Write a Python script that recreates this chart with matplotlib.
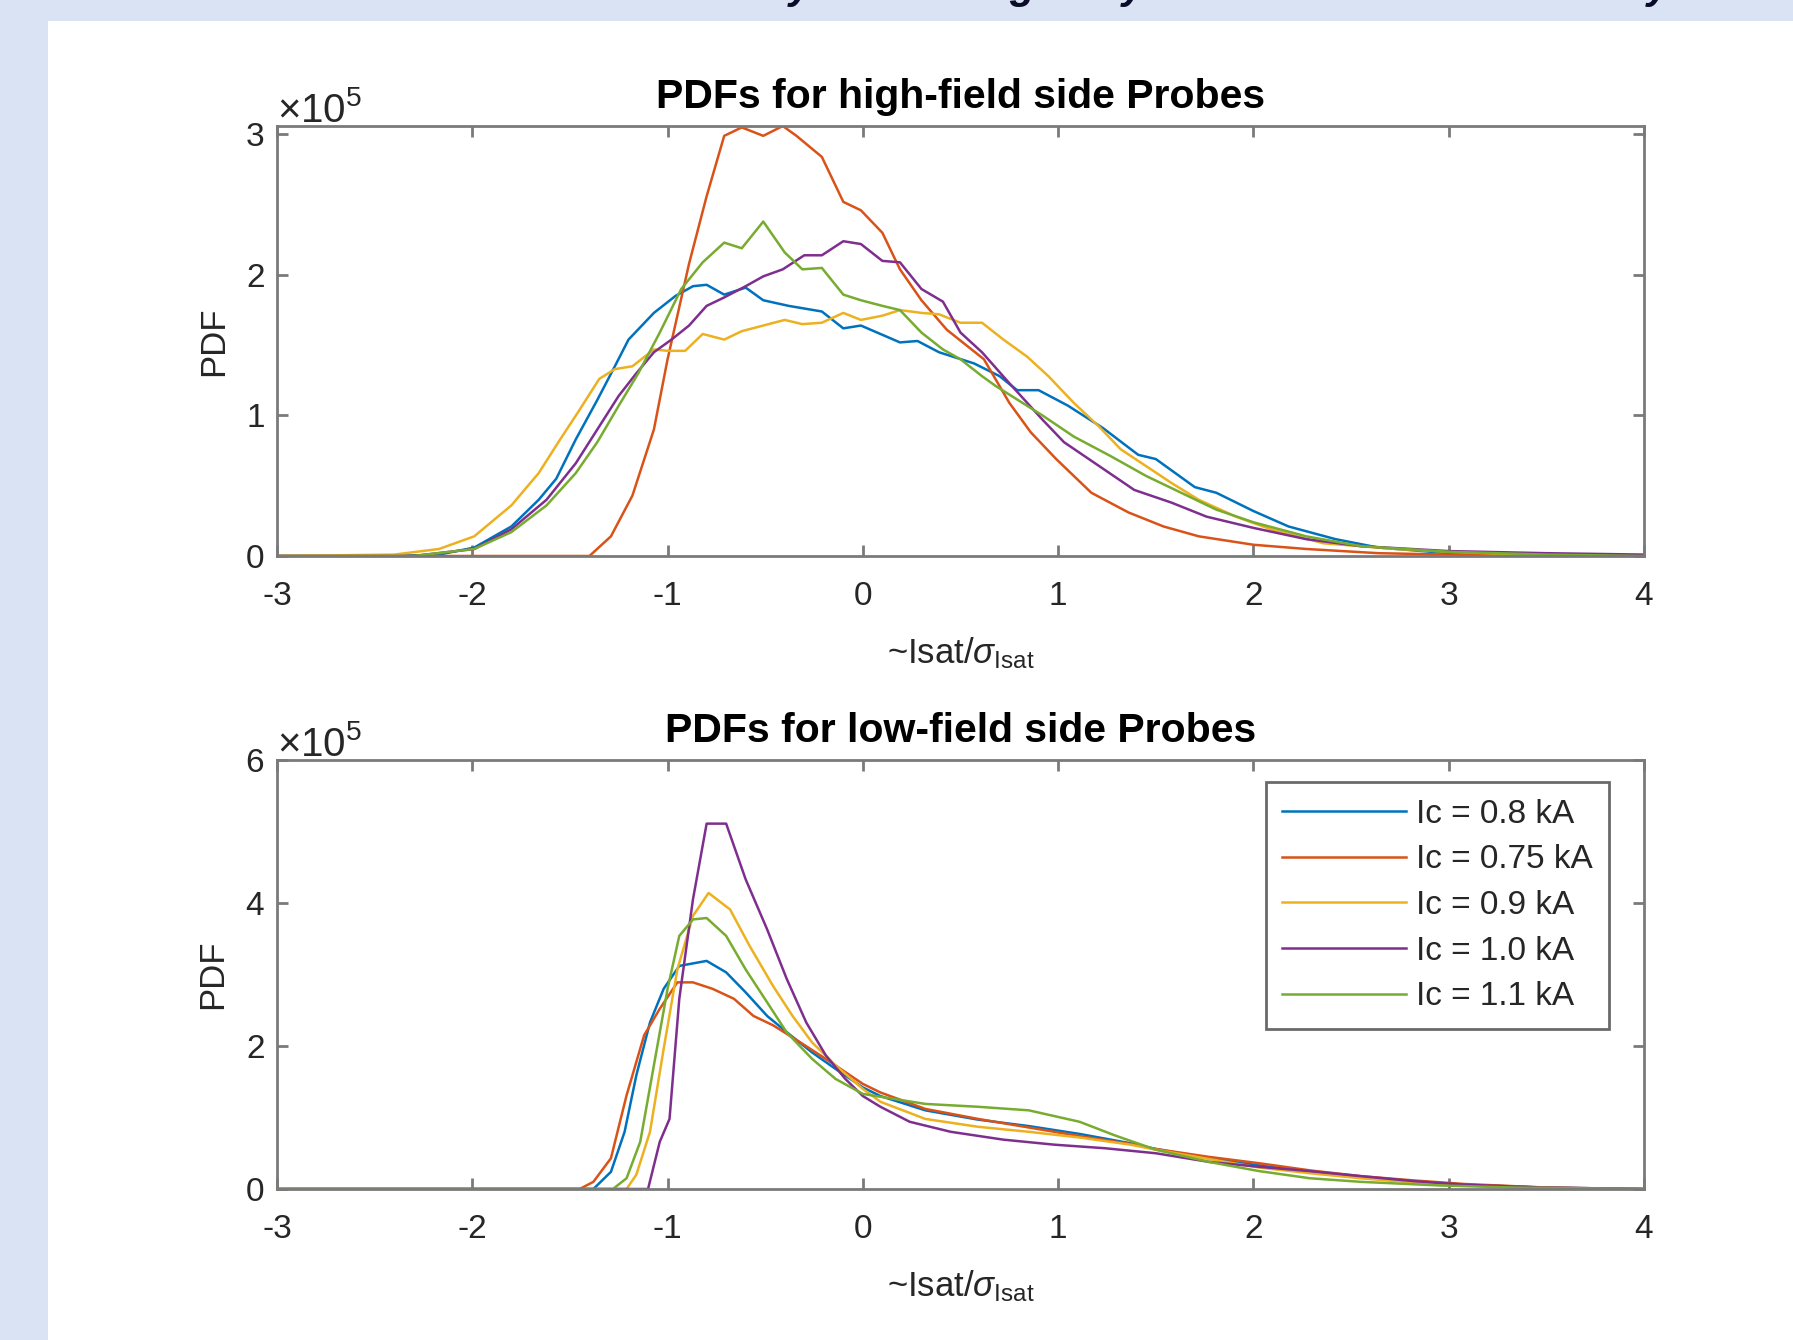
import numpy as np
import matplotlib
matplotlib.use('Agg')
import matplotlib.pyplot as plt
from matplotlib.patches import Rectangle
from matplotlib.ticker import ScalarFormatter, FixedLocator

# ---------------- data (PDF values in units of 1e5) ----------------
labels = ['Ic = 0.8 kA', 'Ic = 0.75 kA', 'Ic = 0.9 kA', 'Ic = 1.0 kA', 'Ic = 1.1 kA']
colors = ['#0072BD', '#D95319', '#EDB120', '#7E2F8E', '#77AC30']

# high-field side
hf_blue_x = [-3, -2.4, -2.17, -1.99, -1.80, -1.66, -1.57, -1.47, -1.36, -1.27, -1.20, -1.07, -0.96, -0.87, -0.80,
             -0.71, -0.60, -0.51, -0.38, -0.21, -0.10, -0.01, 0.19, 0.28, 0.39, 0.57, 0.70, 0.79, 0.90, 1.05, 1.23,
             1.41, 1.50, 1.70, 1.81, 2.0, 2.18, 2.42, 2.64, 3.0, 3.4, 4.0]
hf_blue_y = [0, 0, 0.01, 0.06, 0.21, 0.40, 0.55, 0.83, 1.11, 1.35, 1.54, 1.73, 1.85, 1.92, 1.93,
             1.86, 1.91, 1.82, 1.78, 1.74, 1.62, 1.64, 1.52, 1.53, 1.45, 1.37, 1.28, 1.18, 1.18, 1.07, 0.91,
             0.72, 0.69, 0.49, 0.45, 0.32, 0.21, 0.12, 0.06, 0.02, 0.01, 0.0]

hf_orange_x = [-3, -1.40, -1.29, -1.18, -1.07, -1.0, -0.89, -0.80, -0.71, -0.62, -0.51, -0.41, -0.34, -0.21, -0.10,
               -0.01, 0.10, 0.19, 0.30, 0.43, 0.62, 0.75, 0.86, 0.99, 1.17, 1.36, 1.54, 1.72, 2.0, 2.27, 2.64, 3.0, 4.0]
hf_orange_y = [0, 0, 0.14, 0.43, 0.90, 1.40, 2.08, 2.56, 2.99, 3.05, 2.99, 3.06, 2.99, 2.84, 2.52,
               2.46, 2.30, 2.04, 1.82, 1.61, 1.40, 1.09, 0.88, 0.69, 0.45, 0.31, 0.21, 0.14, 0.08, 0.05, 0.02, 0.01, 0.0]

hf_yellow_x = [-3, -2.4, -2.17, -1.99, -1.80, -1.66, -1.55, -1.46, -1.35, -1.27, -1.18, -1.07, -1.0, -0.91, -0.82,
               -0.71, -0.62, -0.51, -0.40, -0.31, -0.21, -0.10, -0.01, 0.10, 0.19, 0.30, 0.39, 0.50, 0.61, 0.72,
               0.84, 0.95, 1.08, 1.21, 1.32, 1.45, 1.58, 1.72, 1.91, 2.09, 2.36, 2.73, 3.0, 3.4, 4.0]
hf_yellow_y = [0, 0.01, 0.05, 0.14, 0.36, 0.59, 0.83, 1.02, 1.26, 1.33, 1.35, 1.47, 1.46, 1.46, 1.58,
               1.54, 1.60, 1.64, 1.68, 1.65, 1.66, 1.73, 1.68, 1.71, 1.75, 1.73, 1.72, 1.66, 1.66, 1.54,
               1.42, 1.28, 1.09, 0.92, 0.76, 0.64, 0.52, 0.40, 0.28, 0.19, 0.09, 0.05, 0.03, 0.01, 0.0]

hf_purple_x = [-3, -2.3, -1.99, -1.80, -1.62, -1.47, -1.36, -1.25, -1.16, -1.07, -0.98, -0.89, -0.80, -0.71, -0.60,
               -0.51, -0.41, -0.30, -0.21, -0.10, -0.01, 0.10, 0.19, 0.30, 0.41, 0.50, 0.61, 0.75, 0.92, 1.03,
               1.21, 1.39, 1.58, 1.76, 2.0, 2.27, 2.55, 3.0, 3.5, 4.0]
hf_purple_y = [0, 0, 0.05, 0.19, 0.40, 0.66, 0.90, 1.14, 1.30, 1.45, 1.54, 1.64, 1.78, 1.84, 1.92,
               1.99, 2.04, 2.14, 2.14, 2.24, 2.22, 2.10, 2.09, 1.90, 1.81, 1.59, 1.45, 1.23, 0.97, 0.81,
               0.64, 0.47, 0.38, 0.28, 0.20, 0.12, 0.07, 0.035, 0.02, 0.01]

hf_green_x = [-3, -2.3, -1.99, -1.80, -1.62, -1.47, -1.36, -1.25, -1.15, -1.04, -0.93, -0.82, -0.71, -0.62, -0.51,
              -0.40, -0.31, -0.21, -0.10, -0.01, 0.10, 0.19, 0.30, 0.41, 0.50, 0.61, 0.68, 0.92, 1.08, 1.27,
              1.45, 1.63, 1.81, 2.0, 2.27, 2.55, 3.0, 3.5, 4.0]
hf_green_y = [0, 0, 0.05, 0.17, 0.36, 0.59, 0.81, 1.07, 1.30, 1.59, 1.90, 2.09, 2.23, 2.19, 2.38,
              2.16, 2.04, 2.05, 1.86, 1.82, 1.78, 1.75, 1.59, 1.47, 1.40, 1.28, 1.21, 1.00, 0.85, 0.71,
              0.57, 0.45, 0.33, 0.24, 0.14, 0.07, 0.03, 0.01, 0.0]

# low-field side
lf_blue_x = [-3, -1.38, -1.29, -1.22, -1.16, -1.09, -1.02, -0.94, -0.80, -0.70, -0.60, -0.49, -0.37, -0.26, -0.14,
             0, 0.09, 0.32, 0.59, 0.85, 1.11, 1.37, 1.50, 1.77, 2.03, 2.29, 2.55, 2.82, 3.08, 3.5, 4.0]
lf_blue_y = [0, 0, 0.24, 0.80, 1.59, 2.33, 2.80, 3.12, 3.19, 3.03, 2.75, 2.42, 2.15, 1.91, 1.68,
             1.42, 1.30, 1.10, 0.97, 0.88, 0.77, 0.64, 0.56, 0.43, 0.33, 0.24, 0.17, 0.11, 0.06, 0.02, 0.0]

lf_orange_x = [-3, -1.45, -1.38, -1.29, -1.21, -1.12, -1.04, -0.95, -0.87, -0.77, -0.66, -0.56, -0.46, -0.32, -0.19,
               0, 0.09, 0.32, 0.59, 0.85, 1.11, 1.37, 1.50, 1.77, 2.03, 2.29, 2.55, 2.82, 3.08, 3.5, 4.0]
lf_orange_y = [0, 0, 0.10, 0.43, 1.31, 2.15, 2.52, 2.89, 2.89, 2.80, 2.66, 2.42, 2.29, 2.05, 1.82,
               1.47, 1.35, 1.12, 0.98, 0.86, 0.74, 0.63, 0.56, 0.45, 0.36, 0.26, 0.18, 0.12, 0.07, 0.02, 0.0]

lf_yellow_x = [-3, -1.21, -1.16, -1.09, -1.02, -0.95, -0.87, -0.79, -0.68, -0.58, -0.46, -0.36, -0.26, -0.14,
               0, 0.09, 0.32, 0.59, 0.85, 1.11, 1.37, 1.50, 1.77, 2.03, 2.29, 2.55, 2.82, 3.08, 3.5, 4.0]
lf_yellow_y = [0, 0, 0.2, 0.8, 1.96, 3.07, 3.82, 4.14, 3.91, 3.40, 2.84, 2.42, 2.05, 1.73,
               1.40, 1.22, 0.98, 0.87, 0.80, 0.72, 0.62, 0.55, 0.42, 0.30, 0.22, 0.15, 0.09, 0.05, 0.015, 0.0]

lf_purple_x = [-3, -1.10, -1.04, -0.99, -0.94, -0.87, -0.80, -0.70, -0.60, -0.49, -0.39, -0.29, -0.19, -0.09,
               0, 0.09, 0.24, 0.45, 0.72, 0.98, 1.24, 1.50, 1.77, 2.03, 2.29, 2.55, 2.82, 3.08, 3.47, 4.0]
lf_purple_y = [0, 0, 0.66, 0.98, 2.66, 4.05, 5.11, 5.11, 4.33, 3.63, 2.94, 2.33, 1.87, 1.54,
               1.30, 1.15, 0.94, 0.80, 0.69, 0.62, 0.57, 0.50, 0.38, 0.31, 0.25, 0.18, 0.11, 0.06, 0.02, 0.0]

lf_green_x = [-3, -1.28, -1.21, -1.14, -1.07, -1.0, -0.94, -0.87, -0.80, -0.70, -0.60, -0.49, -0.39, -0.26, -0.14,
              0, 0.09, 0.32, 0.59, 0.85, 1.11, 1.29, 1.50, 1.77, 2.03, 2.29, 2.55, 2.95, 3.34, 4.0]
lf_green_y = [0, 0, 0.15, 0.66, 1.73, 2.80, 3.54, 3.77, 3.79, 3.54, 3.07, 2.61, 2.19, 1.82, 1.54,
              1.33, 1.29, 1.19, 1.15, 1.10, 0.94, 0.75, 0.55, 0.38, 0.25, 0.15, 0.10, 0.05, 0.02, 0.0]

hf_series = [(hf_blue_x, hf_blue_y), (hf_orange_x, hf_orange_y), (hf_yellow_x, hf_yellow_y),
             (hf_purple_x, hf_purple_y), (hf_green_x, hf_green_y)]
lf_series = [(lf_blue_x, lf_blue_y), (lf_orange_x, lf_orange_y), (lf_yellow_x, lf_yellow_y),
             (lf_purple_x, lf_purple_y), (lf_green_x, lf_green_y)]

xticks = [-3, -2, -1, 0, 1, 2, 3, 4]
hf_yticks = [0, 1, 2, 3]
lf_yticks = [0, 2, 4, 6]
SCALE = 1e5

# ---------------- style ----------------
plt.rcParams['font.family'] = ['Liberation Sans', 'DejaVu Sans']
plt.rcParams['mathtext.fontset'] = 'custom'
plt.rcParams['mathtext.rm'] = 'Liberation Sans'
plt.rcParams['mathtext.it'] = 'Liberation Sans:italic'
plt.rcParams['mathtext.sf'] = 'Liberation Sans'
plt.rcParams['axes.unicode_minus'] = False

W, H = 1793, 1340
fig = plt.figure(figsize=(W / 100, H / 100), dpi=100)
fig.patch.set_facecolor('#DAE3F3')
fig.add_artist(Rectangle((48 / W, 0), 1 - 48 / W, 1 - 21 / H, transform=fig.transFigure,
                         facecolor='white', edgecolor='none', zorder=0))

# cut-off descenders of the slide title above the figure
for ch, px in [('y', 800), ('g', 1022), ('y', 1133), ('y', 1658)]:
    fig.text(px / W, 1 + 1.5 / H, ch, fontsize=30, fontweight='bold', fontstyle='italic',
             color='#0B0B2A', ha='center', va='baseline')

AX_COL = '#7a7a7a'
TXT_COL = '#262626'


def make_axes(rect, series, yticks, ylim_top, title):
    ax = fig.add_axes(rect)
    for (x, y), c, lab in zip(series, colors, labels):
        ax.plot(x, np.array(y) * SCALE, color=c, lw=1.8, label=lab)
    ax.set_xlim(-3, 4)
    ax.set_ylim(0, ylim_top * SCALE)
    ax.xaxis.set_major_locator(FixedLocator(xticks))
    ax.yaxis.set_major_locator(FixedLocator([t * SCALE for t in yticks]))
    fmt = ScalarFormatter(useMathText=True)
    fmt.set_powerlimits((0, 0))
    ax.yaxis.set_major_formatter(fmt)
    ax.yaxis.get_offset_text().set_fontsize(29)
    ax.yaxis.get_offset_text().set_color('#666666')
    for sp in ax.spines.values():
        sp.set_color(AX_COL)
        sp.set_linewidth(2)
    ax.tick_params(direction='in', length=8, width=2, color=AX_COL, top=True, right=True,
                   labelsize=24, labelcolor=TXT_COL)
    ax.tick_params(axis='x', pad=18)
    ax.tick_params(axis='y', pad=9)
    ax.set_title(title, fontsize=29.5, fontweight='bold', color='black', pad=13)
    ax.set_xlabel(r'~Isat/$\sigma_{\mathrm{Isat}}$', fontsize=25, color=TXT_COL, labelpad=17)
    ax.set_ylabel('PDF', fontsize=25, color=TXT_COL, labelpad=11)
    return ax


left = 277 / W
width = (1644 - 277) / W
ax1 = make_axes([left, 1 - 556 / H, width, (556 - 126) / H], hf_series, hf_yticks, 3.06,
                'PDFs for high-field side Probes')
ax2 = make_axes([left, 1 - 1189 / H, width, (1189 - 760) / H], lf_series, lf_yticks, 6,
                'PDFs for low-field side Probes')

leg = ax2.legend(loc='upper right', bbox_to_anchor=(0.9744, 0.9487), borderaxespad=0,
                 fontsize=24, handlelength=3.7, handletextpad=0.3, labelspacing=0.44,
                 fancybox=False, edgecolor='#6a6a6a', framealpha=1, borderpad=0.5)
leg.get_frame().set_linewidth(2)
for t in leg.get_texts():
    t.set_color(TXT_COL)

fig.savefig('out.png', dpi=100, facecolor=fig.get_facecolor())
